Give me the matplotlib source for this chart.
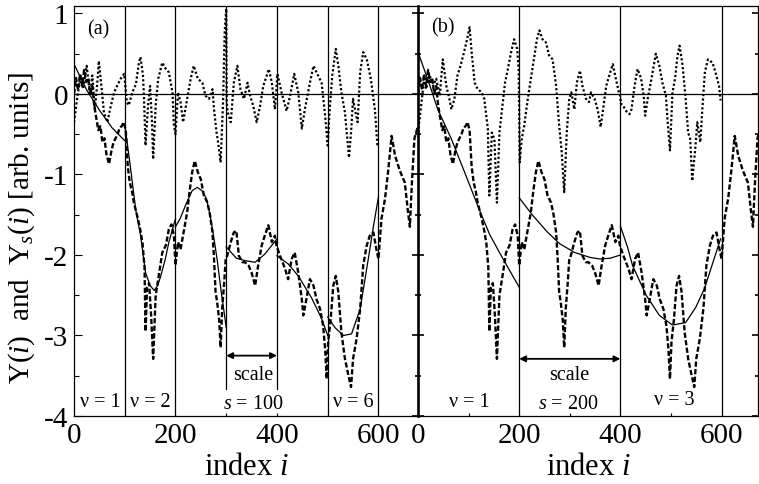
import matplotlib
matplotlib.use("Agg")
import matplotlib.pyplot as plt
from matplotlib.ticker import MultipleLocator, FuncFormatter

plt.rcParams["font.family"] = ["Liberation Serif", "DejaVu Serif"]
plt.rcParams["mathtext.fontset"] = "custom"
plt.rcParams["mathtext.rm"] = "Liberation Serif"
plt.rcParams["mathtext.it"] = "Liberation Serif:italic"
plt.rcParams["axes.unicode_minus"] = False

# profile Y(i), shared by both panels (dashed)
profile_x = [0, 4, 8, 12, 16, 20, 24, 28, 32, 36, 40, 44, 48, 52, 56, 60, 64, 69,
             74, 78, 82, 86, 90, 94, 98, 102, 106, 110, 114, 118, 122, 126, 131,
             135, 139, 141, 144, 148, 152, 156, 161, 167, 174, 181, 187, 192, 197,
             200, 205, 210, 217, 223, 228, 233, 238, 244, 250, 256, 263, 268, 273,
             276, 279, 282, 286, 289, 292, 296, 299, 302, 309, 315, 320, 325, 332,
             337, 344, 350, 357, 363, 370, 376, 383, 390, 396, 399, 406, 416, 422,
             429, 435, 442, 449, 452, 458, 465, 472, 478, 485, 491, 495, 498, 501,
             506, 511, 516, 521, 527, 534, 541, 546, 550, 557, 564, 570, 577, 583,
             590, 596, 600, 606, 613, 619, 626, 633, 642, 652, 658, 662, 666, 671,
             678]
profile_y = [0.0, 0.2, 0.05, 0.25, 0.1, 0.3, 0.15, 0.2, 0.0, 0.1, -0.15, -0.3, -0.45,
             -0.4, -0.6, -0.55, -0.75, -0.87, -0.7, -0.6, -0.55, -0.5, -0.42, -0.4,
             -0.35, -0.45, -0.9, -1.1, -1.2, -1.35, -1.45, -1.55, -1.7, -1.85, -2.15,
             -2.95, -2.4, -2.35, -2.75, -3.29, -2.5, -2.26, -1.97, -1.88, -1.68, -1.62,
             -1.76, -2.13, -1.84, -1.93, -1.68, -1.47, -1.2, -0.97, -0.83, -0.97,
             -1.06, -1.26, -1.35, -1.5, -1.72, -2.05, -2.46, -2.58, -2.8, -3.15, -2.67,
             -2.34, -2.05, -2.01, -1.84, -1.72, -1.7, -2.01, -2.09, -2.09, -2.13,
             -2.22, -2.38, -2.13, -1.88, -1.76, -1.63, -1.84, -1.76, -1.88, -2.01,
             -2.17, -2.3, -2.05, -1.97, -2.22, -2.55, -2.75, -2.55, -2.3, -2.38, -2.55,
             -2.67, -2.88, -3.17, -3.54, -3.08, -2.79, -2.38, -2.26, -2.46, -2.96,
             -3.29, -3.5, -3.64, -3.29, -3.04, -2.67, -2.13, -1.88, -1.76, -1.72,
             -1.93, -2.05, -1.55, -1.3, -0.97, -0.52, -0.77, -0.95, -1.1, -1.45, -1.65,
             -1.1, -0.55, -0.4]

# detrended profile Y_s(i), panel (a), s = 100 (dotted)
dot_a_x = [0, 7, 13, 18, 25, 32, 36, 41, 46, 49, 54, 59, 66, 71, 79, 85, 92, 99,
           104, 108, 115, 122, 128, 131, 136, 138, 141, 146, 150, 154, 156, 161,
           166, 174, 181, 187, 194, 197, 200, 205, 210, 215, 223, 230, 236, 244,
           253, 259, 266, 273, 276, 281, 284, 289, 294, 297, 300, 301, 303, 309,
           315, 322, 328, 335, 342, 347, 353, 360, 367, 373, 380, 384, 390, 396,
           401, 409, 419, 426, 434, 442, 449, 455, 465, 472, 478, 488, 495, 500,
           504, 509, 516, 521, 527, 534, 542, 546, 550, 555, 559, 564, 570, 577,
           585, 593, 598]
dot_a_y = [-0.35, -0.02, 0.23, 0.06, 0.35, -0.02, 0.23, -0.19, 0.14, 0.41, 0.1,
           -0.23, -0.35, -0.19, 0.02, 0.1, 0.19, 0.25, -0.1, -0.14, 0.02, 0.12, 0.39,
           0.46, 0.23, -0.06, -0.64, -0.14, 0.1, -0.39, -0.81, -0.14, 0.19, 0.39,
           0.31, 0.27, 0.02, -0.39, -0.5, 0.02, -0.1, -0.35, -0.06, 0.19, 0.35, 0.19,
           0.14, -0.02, -0.06, 0.06, -0.19, -0.48, -0.6, -0.85, -0.06, 0.77, 1.06,
           -0.1, -0.23, -0.35, 0.14, 0.35, 0.06, -0.06, 0.14, -0.02, -0.14, -0.35,
           -0.14, 0.1, 0.23, 0.31, 0.14, -0.19, 0.25, 0.02, -0.21, -0.02, 0.25, 0.02,
           -0.43, -0.19, 0.14, 0.35, 0.27, 0.14, -0.27, -0.64, -0.19, 0.23, 0.56,
           0.35, 0.02, -0.23, -0.79, -0.48, -0.06, -0.23, -0.35, 0.27, 0.52, 0.43,
           0.19, -0.19, -0.64]

# detrended profile Y_s(i), panel (b), s = 200 (dotted)
dot_b_x = [0, 7, 12, 16, 23, 30, 36, 43, 49, 56, 62, 66, 72, 78, 84, 91, 97, 102,
           106, 112, 118, 126, 131, 138, 141, 146, 151, 156, 161, 167, 172, 177,
           184, 190, 196, 199, 201, 205, 210, 217, 223, 229, 235, 240, 246, 253,
           259, 266, 273, 279, 284, 289, 294, 299, 303, 309, 314, 320, 325, 332,
           338, 342, 349, 355, 361, 365, 372, 378, 385, 391, 397, 400, 401, 405,
           411, 418, 422, 428, 434, 441, 446, 449, 454, 460, 467, 470, 477, 483,
           490, 493, 498, 503, 508, 513, 517, 523, 529, 534, 538, 542, 548, 552,
           558, 562, 567, 573, 582, 588, 595, 598]
dot_b_y = [-0.48, -0.1, 0.19, 0.06, 0.23, 0.1, 0.19, -0.02, 0.43, 0.1, -0.06, -0.19,
           -0.06, 0.23, 0.35, 0.52, 0.68, 0.83, 0.52, 0.14, 0.06, 0.02, -0.06, -0.43,
           -1.26, -0.48, -0.56, -1.35, -0.48, -0.14, 0.14, 0.29, 0.52, 0.68, 0.56,
           0.3, -0.85, -0.56, -0.39, -0.06, 0.19, 0.43, 0.68, 0.79, 0.68, 0.64, 0.48,
           0.43, 0.1, -0.39, -0.72, -1.22, -0.48, -0.06, 0.02, -0.19, 0.14, 0.29,
           0.1, -0.06, -0.1, 0.02, -0.06, -0.19, -0.41, -0.23, 0.1, 0.23, 0.37, 0.19,
           0.02, -0.03, -0.12, -0.14, -0.21, -0.25, -0.19, 0.1, 0.31, 0.19, -0.02,
           -0.27, -0.06, 0.14, 0.39, 0.5, 0.35, 0.14, -0.02, -0.31, -0.7, 0.02, 0.19,
           0.48, 0.6, 0.35, -0.06, -0.48, -0.56, -1.08, -0.68, -0.35, -0.6, -0.19,
           0.27, 0.43, 0.39, 0.27, 0.1, -0.08]

# local polynomial fits, panel (a), one list per segment
fit_a_x = [
    [0, 25, 50, 75, 100],
    [100, 110, 122, 131, 141, 150, 158, 165, 171, 180, 187, 200],
    [200, 209, 222, 233, 243, 252, 261, 268, 274, 282, 290, 300],
    [300, 320, 337, 357, 376, 400],
    [400, 422, 442, 468, 488, 500],
    [500, 514, 531, 547, 564, 580, 590, 600],
]
fit_a_y = [
    [0.37, 0.05, -0.2, -0.42, -0.58],
    [-0.38, -0.85, -1.45, -1.75, -2.22, -2.38, -2.44, -2.38, -2.26, -2.05, -1.84, -1.55],
    [-1.65, -1.55, -1.35, -1.2, -1.16, -1.2, -1.3, -1.5, -1.72, -2.05, -2.45, -2.9],
    [-1.9, -2.04, -2.07, -2.09, -1.99, -1.8],
    [-2.01, -2.11, -2.26, -2.53, -2.79, -3.0],
    [-2.77, -2.9, -3.0, -2.98, -2.67, -2.05, -1.65, -1.28],
]

# local polynomial fits, panel (b)
fit_b_x = [
    [0, 20, 39, 66, 92, 122, 142, 162, 180, 200],
    [200, 227, 255, 280, 310, 340, 360, 380, 400],
    [400, 414, 424, 451, 477, 503, 529, 549, 566, 582, 598],
]
fit_b_y = [
    [0.52, 0.17, -0.19, -0.56, -0.97, -1.45, -1.75, -1.98, -2.18, -2.4],
    [-1.29, -1.51, -1.71, -1.86, -1.97, -2.03, -2.05, -2.04, -2.0],
    [-1.64, -1.9, -2.13, -2.5, -2.75, -2.87, -2.84, -2.65, -2.42, -2.11, -1.8],
]

bounds_a = [100, 200, 300, 400, 500, 600]
bounds_b = [200, 400, 600]

W, H = 759, 485
fig = plt.figure(figsize=(W / 100, H / 100), dpi=100)
ax_a = fig.add_axes([74 / W, 1 - 417 / H, (418 - 74) / W, 410 / H])
ax_b = fig.add_axes([418 / W, 1 - 417 / H, (758 - 418) / W, 410 / H])

DASH = (0, (2.2, 1.0))
DOT = (0, (1.0, 1.0))
hyphen = FuncFormatter(lambda v, pos: f"{v:g}".replace("\u2212", "-"))


def draw_panel(ax, dot_x, dot_y, fit_x, fit_y, xmax):
    ax.plot(profile_x, profile_y, color="black", lw=1.7, linestyle=DASH)
    ax.plot(dot_x, dot_y, color="black", lw=1.6, linestyle=DOT)
    for fx, fy in zip(fit_x, fit_y):
        ax.plot(fx, fy, color="black", lw=0.9)
    ax.axhline(0, color="black", lw=0.9)
    ax.set_xlim(0, xmax)
    ax.set_ylim(-4, 1.093)
    ax.xaxis.set_major_locator(MultipleLocator(200))
    ax.xaxis.set_minor_locator(MultipleLocator(100))
    ax.yaxis.set_major_locator(MultipleLocator(1))
    ax.yaxis.set_minor_locator(MultipleLocator(0.5))
    ax.xaxis.set_major_formatter(hyphen)
    ax.yaxis.set_major_formatter(hyphen)
    ax.tick_params(axis="x", which="both", direction="in", length=2.5, width=0.8,
                   labelsize=21, pad=4, top=False)
    for sp in ax.spines.values():
        sp.set_linewidth(0.9)
    ax.set_xlabel(r"index $i$", fontsize=22, labelpad=3)


draw_panel(ax_a, dot_a_x, dot_a_y, fit_a_x, fit_a_y, 678)
draw_panel(ax_b, dot_b_x, dot_b_y, fit_b_x, fit_b_y, 672)

# segment boundaries
for b in bounds_a:
    low = -3.67 if b in (300, 400) else -4
    ax_a.plot([b, b], [low, 1.093], color="black", lw=0.9)
for b in bounds_b:
    ax_b.plot([b, b], [-4, 1.093], color="black", lw=0.9)

ax_a.spines["right"].set_visible(False)
ax_a.tick_params(axis="y", which="major", direction="in", length=6, width=0.8,
                 labelsize=21, pad=4)
ax_a.tick_params(axis="y", which="minor", direction="in", length=3.5, width=0.8)

ax_b.spines["left"].set_linewidth(1.9)
ax_b.tick_params(axis="y", which="major", direction="inout", length=9, width=1.2,
                 labelleft=False, right=True)
ax_b.tick_params(axis="y", which="minor", direction="inout", length=5, width=1.2,
                 right=True)

# labels inside panels
txt = dict(fontsize=14.5, ha="center", va="center")
ax_a.text(48, 0.81, "(a)", **txt)
ax_b.text(50, 0.83, "(b)", **txt)
ax_a.text(51, -3.82, "\u03bd = 1", **txt)
ax_a.text(150, -3.82, "\u03bd = 2", **txt)
ax_a.text(550, -3.82, "\u03bd = 6", **txt)
ax_a.text(353, -3.48, "scale", **txt)
ax_a.text(353, -3.84, r"$s$ = 100", **txt)
ax_b.text(102, -3.82, "\u03bd = 1", **txt)
ax_b.text(506, -3.79, "\u03bd = 3", **txt)
ax_b.text(298, -3.48, "scale", **txt)
ax_b.text(298, -3.84, r"$s$ = 200", **txt)

arrow = dict(arrowstyle="<|-|>", color="black", lw=1.3, mutation_scale=9,
             shrinkA=0, shrinkB=0)
ax_a.annotate("", xy=(300, -3.25), xytext=(400, -3.25), arrowprops=arrow)
ax_b.annotate("", xy=(200, -3.29), xytext=(400, -3.29), arrowprops=arrow)

fig.text(22 / W, 1 - 228 / H, r"Y($i$)  and  Y$_s$($i$) [arb. units]",
         rotation=90, fontsize=21, ha="center", va="center")

fig.savefig("out.png", dpi=100)
